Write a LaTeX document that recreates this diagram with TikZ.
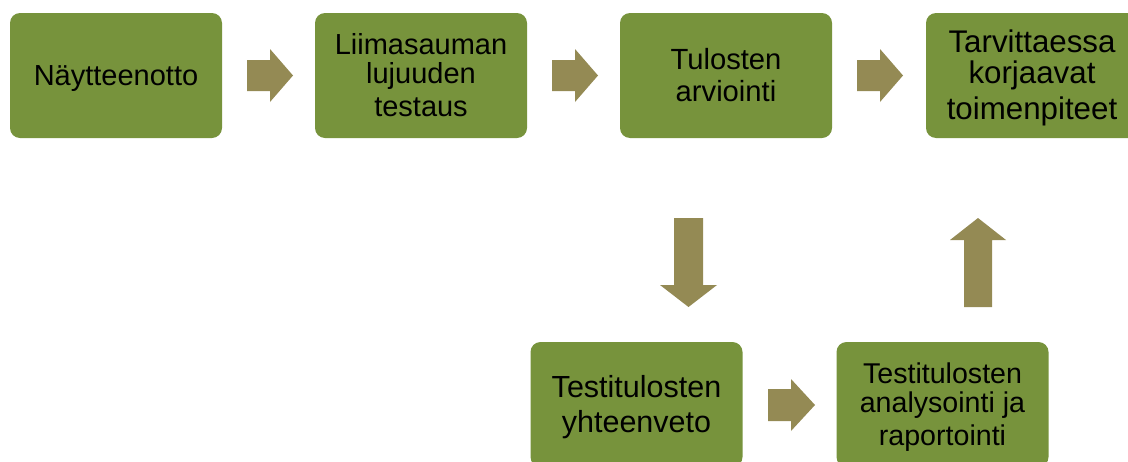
\documentclass[tikz,border=0pt]{standalone}
\usepackage{fontspec}
\setmainfont{Liberation Sans}
\definecolor{boxgreen}{HTML}{77933C}
\definecolor{arrowkhaki}{HTML}{948A54}
\newcommand{\ls}{\rule[-0.212em]{0pt}{1.117em}}
\begin{document}
\begin{tikzpicture}[x=1pt,y=-1pt,
  stage/.style n args={2}{fill=boxgreen, rounded corners=10pt, minimum width=212pt, minimum height=125pt,
    inner sep=0pt, align=center, text=black, font=\fontsize{#1}{#2}\selectfont},
  blockarrow/.style={fill=arrowkhaki}]
\useasboundingbox (0,0) rectangle (1128,461);
\clip (0,0) rectangle (1128,461);
\node[stage={29}{30}] (n1) at (116,75.5) {\ls Näytteenotto\ls};
\node[stage={29}{29.5}] (n2) at (421,75.5) {\ls Liimasauman\\lujuuden\\testaus\ls};
\node[stage={29.2}{32.7}] (n3) at (726,75.5) {\ls Tulosten\\arviointi\ls};
\node[stage={31.3}{31}] (n4) at (1032,75.5) {\ls Tarvittaessa\\korjaavat\\toimenpiteet\ls};
\node[stage={30.5}{31.7}] (n5) at (636.5,404.5) {\ls Testitulosten\\yhteenveto\ls};
\node[stage={28.6}{29.5}] (n6) at (942.5,404.5) {\ls Testitulosten\\analysointi ja\\raportointi\ls};
% horizontal block arrows (top row)
\foreach \x in {0,305,610} {
  \fill[blockarrow] (247+\x,60) -- (270+\x,60) -- (270+\x,49) -- (293+\x,75.5) -- (270+\x,102) -- (270+\x,91) -- (247+\x,91) -- cycle;
}
% bottom horizontal arrow
\fill[blockarrow] (768,389) -- (791,389) -- (791,379) -- (815,405) -- (791,431) -- (791,421) -- (768,421) -- cycle;
% down arrow
\fill[blockarrow] (674,218) -- (703,218) -- (703,285) -- (717,285) -- (688.5,307) -- (660,285) -- (674,285) -- cycle;
% up arrow
\fill[blockarrow] (964,307) -- (992,307) -- (992,240) -- (1006,240) -- (978,218) -- (950,240) -- (964,240) -- cycle;
\end{tikzpicture}
\end{document}
